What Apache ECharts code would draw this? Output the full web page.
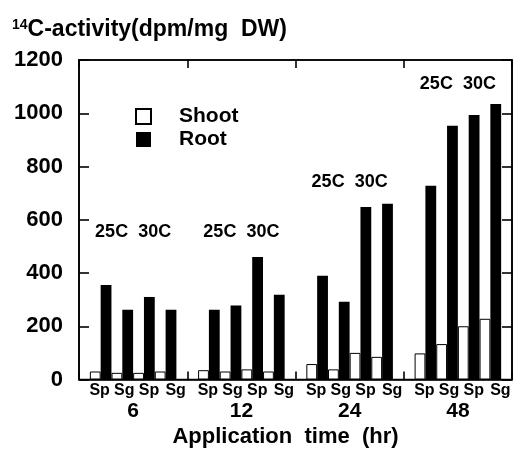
<!DOCTYPE html>
<html><head><meta charset="utf-8">
<script src="https://cdn.jsdelivr.net/npm/echarts@6/dist/echarts.min.js"></script>
<style>html,body{margin:0;padding:0;background:#fff}#c{width:515px;height:458px}</style>
</head><body><div id="c"></div>
<script>
// ---- data ----
const times = ['6', '12', '24', '48'];
const species = ['Sp', 'Sg', 'Sp', 'Sg'];
const shoot = [30, 25, 25, 30, 35, 30, 38, 30, 58, 38, 100, 85, 98, 133, 200, 228];
const root = [355, 262, 310, 262, 262, 278, 460, 318, 390, 292, 648, 660, 728, 953, 993, 1035];
const tempLabels = ['25C  30C', '25C  30C', '25C  30C', '25C  30C'];
const tempLabelY = [553, 553, 742, 1111];
const yMin = 0, yMax = 1200, yStep = 200;

// build category slots: empty slot, 4 bars, empty slot, ...
const cats = [''], shootData = [null], rootData = [null];
times.forEach((t, g) => {
  species.forEach((s, k) => {
    cats.push(s);
    shootData.push(shoot[g * 4 + k]);
    rootData.push(root[g * 4 + k]);
  });
  cats.push(''); shootData.push(null); rootData.push(null);
});

const F = "'Liberation Sans', Arial, sans-serif";
const black = '#000';
const mkLine = () => ({ color: black, width: 1.6 });
const spRich = {
  k0: { padding: [0, 2, 0, 0] },
  k1: { padding: [0, 0, 0, 4] },
  k2: { padding: [0, 0, 0, 10] },
  k3: { padding: [0, 0, 0, 20] }
};
Object.values(spRich).forEach(r => Object.assign(r, { fontSize: 16, fontWeight: 'bold', color: black, fontFamily: F }));

const chart = echarts.init(document.getElementById('c'), null, { renderer: 'canvas' });
chart.setOption({
  animation: false,
  backgroundColor: '#fff',
  textStyle: { fontFamily: F, color: black },
  title: {
    text: '{s|14}{m|C-activity(dpm/mg  DW)}',
    left: 12, top: 18, padding: 0,
    textStyle: {
      rich: {
        s: { fontSize: 14, fontWeight: 'bold', fontFamily: F, color: black, verticalAlign: 'top' },
        m: { fontSize: 23, fontWeight: 'bold', fontFamily: F, color: black }
      }
    }
  },
  legend: {
    orient: 'vertical', left: 135, top: 106, padding: 0,
    itemWidth: 15, itemHeight: 15, itemGap: 2,
    icon: 'rect', selectedMode: false,
    data: ['Shoot', 'Root'],
    textStyle: { fontSize: 21, fontWeight: 'bold', color: black, fontFamily: F, padding: [0, 0, 0, 23] }
  },
  grid: {
    left: 79, right: 3, top: 60, bottom: 78.5,
    show: true, borderColor: black, borderWidth: 1.6, backgroundColor: 'transparent'
  },
  xAxis: [
    {
      type: 'category', data: cats, boundaryGap: false, position: 'bottom',
      axisLine: { onZero: false, lineStyle: mkLine() },
      axisTick: { show: true, inside: true, length: 8, interval: 4, lineStyle: mkLine() },
      axisLabel: {
        interval: 0, margin: 3, color: black, fontFamily: F, fontSize: 16, fontWeight: 'bold',
        formatter: (v, i) => v ? '{k' + ((i - 1) % 5) + '|' + v + '}' : '',
        rich: spRich
      }
    },
    {
      type: 'category', data: times, boundaryGap: true, position: 'bottom',
      axisLine: { show: false, onZero: false }, axisTick: { show: false },
      axisLabel: { margin: 21, fontSize: 21, fontWeight: 'bold', color: black, fontFamily: F },
      name: 'Application  time  (hr)', nameLocation: 'middle', nameGap: 44,
      nameTextStyle: { fontSize: 22, fontWeight: 'bold', color: black, fontFamily: F, padding: [0, 20, 0, 0] }
    },
    {
      type: 'category', data: cats, boundaryGap: false, position: 'top',
      axisLine: { show: true, onZero: false, lineStyle: mkLine() },
      axisTick: { show: true, inside: true, length: 8, interval: 4, lineStyle: mkLine() },
      axisLabel: { show: false }
    }
  ],
  yAxis: [
    {
      type: 'value', min: yMin, max: yMax, interval: yStep, position: 'left',
      axisLine: { show: true, onZero: false, lineStyle: mkLine() },
      axisTick: { show: true, inside: true, length: 10, lineStyle: mkLine() },
      splitLine: { show: false },
      axisLabel: { margin: 16, fontSize: 22, fontWeight: 'bold', color: black, fontFamily: F, formatter: (v) => String(v) }
    },
    {
      type: 'value', position: 'right', min: yMin, max: yMax, interval: yStep,
      axisLine: { show: true, onZero: false, lineStyle: mkLine() },
      axisTick: { show: true, inside: true, length: 10, lineStyle: mkLine() },
      splitLine: { show: false },
      axisLabel: { show: false }
    }
  ],
  series: [
    {
      name: 'Shoot', type: 'bar', data: shootData, barWidth: 10.8, barGap: '0%',
      xAxisIndex: 0, yAxisIndex: 0,
      itemStyle: { color: '#fff', borderColor: black, borderWidth: 1 }
    },
    {
      name: 'Root', type: 'bar', data: rootData, barWidth: 10.8, barGap: '0%',
      xAxisIndex: 0, yAxisIndex: 0,
      itemStyle: { color: black }
    },
    {
      type: 'scatter', xAxisIndex: 1, yAxisIndex: 1, data: tempLabelY, symbolSize: 0, silent: true,
      itemStyle: { opacity: 1 },
      label: {
        show: true, position: 'inside', formatter: (p) => tempLabels[p.dataIndex],
        fontSize: 18, fontWeight: 'bold', color: black, opacity: 1, fontFamily: F
      }
    }
  ]
});
</script></body></html>
